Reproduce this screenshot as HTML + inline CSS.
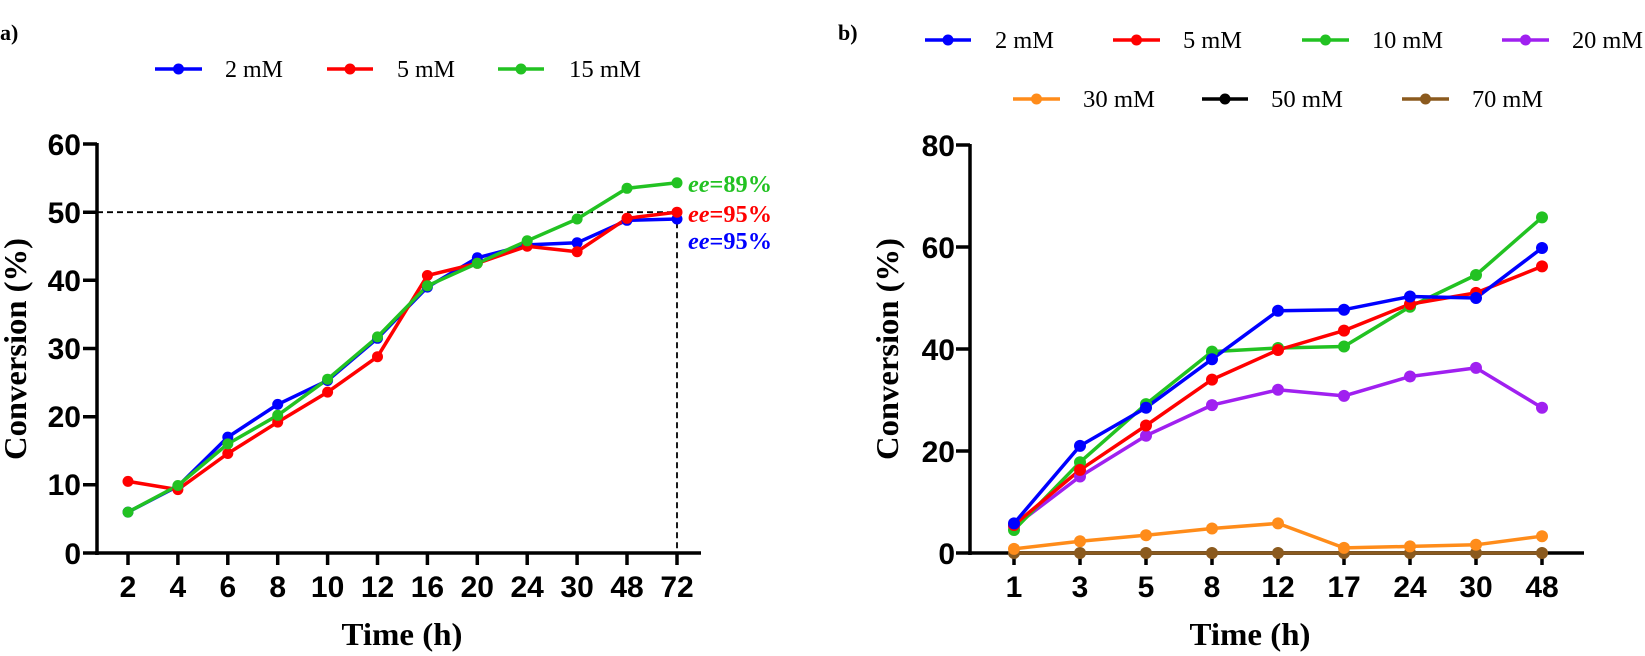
<!DOCTYPE html>
<html><head><meta charset="utf-8"><style>
html,body{margin:0;padding:0;background:#fff;}
svg{display:block;}
.ser{font-family:"Liberation Serif",serif;}
.sans{font-family:"Liberation Sans",sans-serif;font-weight:bold;}
</style></head><body>
<svg width="1645" height="656" viewBox="0 0 1645 656" xmlns="http://www.w3.org/2000/svg">
<g class="ser" font-weight="bold" font-size="22">
<text x="0" y="40">a)</text>
<text x="838" y="40">b)</text>
</g>
<!-- Legend a -->
<g stroke-width="3.5">
<line x1="155" y1="69" x2="202" y2="69" stroke="#0000ff"/><circle cx="178.5" cy="69" r="5.5" fill="#0000ff"/>
<line x1="327" y1="69" x2="373" y2="69" stroke="#ff0000"/><circle cx="350" cy="69" r="5.5" fill="#ff0000"/>
<line x1="498" y1="69" x2="544" y2="69" stroke="#22c222"/><circle cx="521" cy="69" r="5.5" fill="#22c222"/>
</g>
<g class="ser" font-size="24">
<text x="225" y="77" textLength="58" lengthAdjust="spacingAndGlyphs">2 mM</text>
<text x="397" y="77" textLength="58" lengthAdjust="spacingAndGlyphs">5 mM</text>
<text x="569" y="77" textLength="72" lengthAdjust="spacingAndGlyphs">15 mM</text>
</g>
<!-- Chart a axes -->
<g stroke="#000" stroke-width="3.5" fill="none">
<line x1="97" y1="143" x2="97" y2="555"/>
<line x1="95" y1="553" x2="701" y2="553"/>
<path d="M83 144H97M83 212.2H97M83 280.3H97M83 348.5H97M83 416.7H97M83 484.8H97M83 553H97"/>
<path d="M128 553v12M177.9 553v12M227.8 553v12M277.7 553v12M327.6 553v12M377.5 553v12M427.4 553v12M477.3 553v12M527.2 553v12M577.1 553v12M627 553v12M677 553v12"/>
</g>
<g class="sans" font-size="30" text-anchor="end">
<text x="81" y="155">60</text><text x="81" y="223">50</text><text x="81" y="291">40</text><text x="81" y="359">30</text><text x="81" y="427">20</text><text x="81" y="495">10</text><text x="81" y="564">0</text>
</g>
<g class="sans" font-size="30" text-anchor="middle">
<text x="128" y="597">2</text><text x="177.9" y="597">4</text><text x="227.8" y="597">6</text><text x="277.7" y="597">8</text><text x="327.6" y="597">10</text><text x="377.5" y="597">12</text><text x="427.4" y="597">16</text><text x="477.3" y="597">20</text><text x="527.2" y="597">24</text><text x="577.1" y="597">30</text><text x="627" y="597">48</text><text x="677" y="597">72</text>
</g>
<g class="ser" font-weight="bold" font-size="32">
<text x="402" y="645" text-anchor="middle" textLength="121" lengthAdjust="spacingAndGlyphs">Time (h)</text>
<text transform="translate(26,349) rotate(-90)" text-anchor="middle" textLength="222" lengthAdjust="spacingAndGlyphs">Conversion (%)</text>
</g>
<g stroke="#000" stroke-width="1.8" stroke-dasharray="6,4" fill="none">
<line x1="97" y1="212.2" x2="677" y2="212.2"/><line x1="677" y1="212.2" x2="677" y2="553"/>
</g>
<g stroke-width="3.5" fill="none" stroke-linejoin="round">
<polyline stroke="#0000ff" points="128,512.1 177.9,486.2 227.8,437.1 277.7,404.4 327.6,380.5 377.5,338.3 427.4,287.1 477.3,257.8 527.2,244.9 577.1,242.8 627,220.3 677,219"/>
<polyline stroke="#ff0000" points="128,481.4 177.9,489.6 227.8,453.5 277.7,422.1 327.6,392.1 377.5,356.7 427.4,275.5 477.3,263.3 527.2,246.2 577.1,251.7 627,218.3 677,212.2"/>
<polyline stroke="#22c222" points="128,512.1 177.9,485.5 227.8,443.9 277.7,415.3 327.6,379.2 377.5,336.9 427.4,285.8 477.3,263.3 527.2,240.8 577.1,219 627,188.3 677,182.8"/>
</g>
<g fill="#0000ff"><circle cx="128" cy="512.1" r="5.5"/><circle cx="177.9" cy="486.2" r="5.5"/><circle cx="227.8" cy="437.1" r="5.5"/><circle cx="277.7" cy="404.4" r="5.5"/><circle cx="327.6" cy="380.5" r="5.5"/><circle cx="377.5" cy="338.3" r="5.5"/><circle cx="427.4" cy="287.1" r="5.5"/><circle cx="477.3" cy="257.8" r="5.5"/><circle cx="527.2" cy="244.9" r="5.5"/><circle cx="577.1" cy="242.8" r="5.5"/><circle cx="627" cy="220.3" r="5.5"/><circle cx="677" cy="219" r="5.5"/></g>
<g fill="#ff0000"><circle cx="128" cy="481.4" r="5.5"/><circle cx="177.9" cy="489.6" r="5.5"/><circle cx="227.8" cy="453.5" r="5.5"/><circle cx="277.7" cy="422.1" r="5.5"/><circle cx="327.6" cy="392.1" r="5.5"/><circle cx="377.5" cy="356.7" r="5.5"/><circle cx="427.4" cy="275.5" r="5.5"/><circle cx="477.3" cy="263.3" r="5.5"/><circle cx="527.2" cy="246.2" r="5.5"/><circle cx="577.1" cy="251.7" r="5.5"/><circle cx="627" cy="218.3" r="5.5"/><circle cx="677" cy="212.2" r="5.5"/></g>
<g fill="#22c222"><circle cx="128" cy="512.1" r="5.5"/><circle cx="177.9" cy="485.5" r="5.5"/><circle cx="227.8" cy="443.9" r="5.5"/><circle cx="277.7" cy="415.3" r="5.5"/><circle cx="327.6" cy="379.2" r="5.5"/><circle cx="377.5" cy="336.9" r="5.5"/><circle cx="427.4" cy="285.8" r="5.5"/><circle cx="477.3" cy="263.3" r="5.5"/><circle cx="527.2" cy="240.8" r="5.5"/><circle cx="577.1" cy="219" r="5.5"/><circle cx="627" cy="188.3" r="5.5"/><circle cx="677" cy="182.8" r="5.5"/></g>
<g class="ser" font-weight="bold" font-size="24">
<text x="688" y="192" fill="#22c222" textLength="84" lengthAdjust="spacingAndGlyphs"><tspan font-style="italic">ee</tspan>=89%</text>
<text x="688" y="222" fill="#ff0000" textLength="84" lengthAdjust="spacingAndGlyphs"><tspan font-style="italic">ee</tspan>=95%</text>
<text x="688" y="249" fill="#0000ff" textLength="84" lengthAdjust="spacingAndGlyphs"><tspan font-style="italic">ee</tspan>=95%</text>
</g>
<!-- Legend b -->
<g stroke-width="3.5">
<line x1="925" y1="40" x2="971" y2="40" stroke="#0000ff"/><circle cx="948" cy="40" r="5.5" fill="#0000ff"/>
<line x1="1113" y1="40" x2="1160" y2="40" stroke="#ff0000"/><circle cx="1136.5" cy="40" r="5.5" fill="#ff0000"/>
<line x1="1302" y1="40" x2="1349" y2="40" stroke="#22c222"/><circle cx="1325.5" cy="40" r="5.5" fill="#22c222"/>
<line x1="1502" y1="40" x2="1549" y2="40" stroke="#a020f0"/><circle cx="1525.5" cy="40" r="5.5" fill="#a020f0"/>
<line x1="1013" y1="99" x2="1060" y2="99" stroke="#ff8c1a"/><circle cx="1036.5" cy="99" r="5.5" fill="#ff8c1a"/>
<line x1="1202" y1="99" x2="1248" y2="99" stroke="#000"/><circle cx="1225" cy="99" r="5.5" fill="#000"/>
<line x1="1402" y1="99" x2="1449" y2="99" stroke="#8b5a1e"/><circle cx="1425.5" cy="99" r="5.5" fill="#8b5a1e"/>
</g>
<g class="ser" font-size="24">
<text x="995" y="48" textLength="59" lengthAdjust="spacingAndGlyphs">2 mM</text>
<text x="1183" y="48" textLength="59" lengthAdjust="spacingAndGlyphs">5 mM</text>
<text x="1372" y="48" textLength="71" lengthAdjust="spacingAndGlyphs">10 mM</text>
<text x="1572" y="48" textLength="71" lengthAdjust="spacingAndGlyphs">20 mM</text>
<text x="1083" y="107" textLength="72" lengthAdjust="spacingAndGlyphs">30 mM</text>
<text x="1271" y="107" textLength="72" lengthAdjust="spacingAndGlyphs">50 mM</text>
<text x="1472" y="107" textLength="71" lengthAdjust="spacingAndGlyphs">70 mM</text>
</g>
<!-- Chart b axes -->
<g stroke="#000" stroke-width="3.5" fill="none">
<line x1="970" y1="144" x2="970" y2="555"/>
<line x1="968" y1="553" x2="1584" y2="553"/>
<path d="M956 145H970M956 247H970M956 349H970M956 451H970M956 553H970"/>
<path d="M1014 553v12M1080 553v12M1146 553v12M1212 553v12M1278 553v12M1344 553v12M1410 553v12M1476 553v12M1542 553v12"/>
</g>
<g class="sans" font-size="30" text-anchor="end">
<text x="955" y="156">80</text><text x="955" y="258">60</text><text x="955" y="360">40</text><text x="955" y="462">20</text><text x="955" y="564">0</text>
</g>
<g class="sans" font-size="30" text-anchor="middle">
<text x="1014" y="597">1</text><text x="1080" y="597">3</text><text x="1146" y="597">5</text><text x="1212" y="597">8</text><text x="1278" y="597">12</text><text x="1344" y="597">17</text><text x="1410" y="597">24</text><text x="1476" y="597">30</text><text x="1542" y="597">48</text>
</g>
<g class="ser" font-weight="bold" font-size="32">
<text x="1250" y="645" text-anchor="middle" textLength="121" lengthAdjust="spacingAndGlyphs">Time (h)</text>
<text transform="translate(898,349) rotate(-90)" text-anchor="middle" textLength="222" lengthAdjust="spacingAndGlyphs">Conversion (%)</text>
</g>
<g stroke-width="3.5" fill="none" stroke-linejoin="round">
<polyline stroke="#000" points="1014,553 1542,553"/>
<polyline stroke="#8b5a1e" points="1014,553 1542,553"/>
<polyline stroke="#ff8c1a" points="1014,548.9 1080,541.3 1146,535.2 1212,528.5 1278,523.4 1344,547.9 1410,546.4 1476,544.8 1542,536.2"/>
<polyline stroke="#a020f0" points="1014,526.5 1080,476.5 1146,435.7 1212,405.1 1278,389.8 1344,395.9 1410,376.5 1476,367.9 1542,407.7"/>
<polyline stroke="#22c222" points="1014,530 1080,462.2 1146,404.1 1212,351.6 1278,348 1344,346.5 1410,306.7 1476,275 1542,217.4"/>
<polyline stroke="#ff0000" points="1014,525 1080,469.9 1146,425.5 1212,379.6 1278,350 1344,330.6 1410,304.1 1476,292.9 1542,266.4"/>
<polyline stroke="#0000ff" points="1014,523.4 1080,445.9 1146,407.7 1212,359.2 1278,310.8 1344,309.7 1410,296.5 1476,298 1542,248"/>
</g>
<g fill="#8b5a1e"><circle cx="1014" cy="553" r="6"/><circle cx="1080" cy="553" r="6"/><circle cx="1146" cy="553" r="6"/><circle cx="1212" cy="553" r="6"/><circle cx="1278" cy="553" r="6"/><circle cx="1344" cy="553" r="6"/><circle cx="1410" cy="553" r="6"/><circle cx="1476" cy="553" r="6"/><circle cx="1542" cy="553" r="6"/></g>
<g fill="#ff8c1a"><circle cx="1014" cy="548.9" r="6"/><circle cx="1080" cy="541.3" r="6"/><circle cx="1146" cy="535.2" r="6"/><circle cx="1212" cy="528.5" r="6"/><circle cx="1278" cy="523.4" r="6"/><circle cx="1344" cy="547.9" r="6"/><circle cx="1410" cy="546.4" r="6"/><circle cx="1476" cy="544.8" r="6"/><circle cx="1542" cy="536.2" r="6"/></g>
<g fill="#a020f0"><circle cx="1014" cy="526.5" r="6"/><circle cx="1080" cy="476.5" r="6"/><circle cx="1146" cy="435.7" r="6"/><circle cx="1212" cy="405.1" r="6"/><circle cx="1278" cy="389.8" r="6"/><circle cx="1344" cy="395.9" r="6"/><circle cx="1410" cy="376.5" r="6"/><circle cx="1476" cy="367.9" r="6"/><circle cx="1542" cy="407.7" r="6"/></g>
<g fill="#22c222"><circle cx="1014" cy="530" r="6"/><circle cx="1080" cy="462.2" r="6"/><circle cx="1146" cy="404.1" r="6"/><circle cx="1212" cy="351.6" r="6"/><circle cx="1278" cy="348" r="6"/><circle cx="1344" cy="346.5" r="6"/><circle cx="1410" cy="306.7" r="6"/><circle cx="1476" cy="275" r="6"/><circle cx="1542" cy="217.4" r="6"/></g>
<g fill="#ff0000"><circle cx="1014" cy="525" r="6"/><circle cx="1080" cy="469.9" r="6"/><circle cx="1146" cy="425.5" r="6"/><circle cx="1212" cy="379.6" r="6"/><circle cx="1278" cy="350" r="6"/><circle cx="1344" cy="330.6" r="6"/><circle cx="1410" cy="304.1" r="6"/><circle cx="1476" cy="292.9" r="6"/><circle cx="1542" cy="266.4" r="6"/></g>
<g fill="#0000ff"><circle cx="1014" cy="523.4" r="6"/><circle cx="1080" cy="445.9" r="6"/><circle cx="1146" cy="407.7" r="6"/><circle cx="1212" cy="359.2" r="6"/><circle cx="1278" cy="310.8" r="6"/><circle cx="1344" cy="309.7" r="6"/><circle cx="1410" cy="296.5" r="6"/><circle cx="1476" cy="298" r="6"/><circle cx="1542" cy="248" r="6"/></g>
</svg>
</body></html>
